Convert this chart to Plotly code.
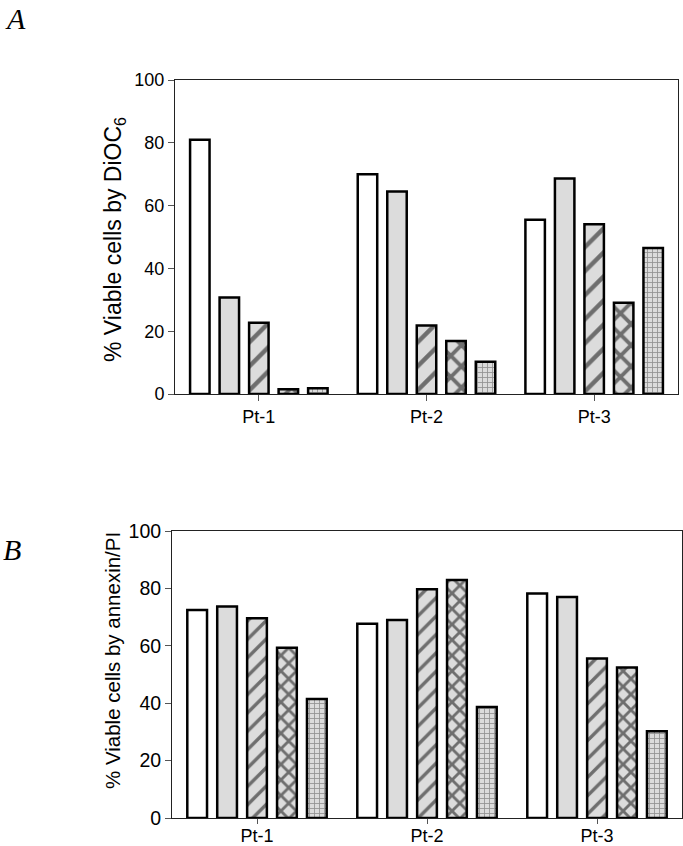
import plotly.graph_objects as go
from plotly.subplots import make_subplots

categories = ["Pt-1", "Pt-2", "Pt-3"]
y_ticks = [0, 20, 40, 60, 80, 100]

# Panel A: % viable cells by DiOC6
a_s1 = [81.0, 70.0, 55.5]
a_s2 = [30.7, 64.5, 68.6]
a_s3 = [22.7, 21.8, 54.1]
a_s4 = [1.5, 16.9, 29.1]
a_s5 = [1.8, 10.3, 46.5]

# Panel B: % viable cells by annexin/PI
b_s1 = [72.5, 67.7, 78.2]
b_s2 = [73.7, 69.0, 77.0]
b_s3 = [69.6, 79.7, 55.6]
b_s4 = [59.3, 82.9, 52.4]
b_s5 = [41.5, 38.7, 30.2]

W, H = 683, 846
GREY = "#dcdcdc"

def styles(hatch_size, cross_size):
    return [
        dict(color="white", pattern=dict(shape="")),
        dict(color=GREY, pattern=dict(shape="")),
        dict(color=GREY, pattern=dict(shape="/", fgcolor="black", size=hatch_size, solidity=0.26)),
        dict(color=GREY, pattern=dict(shape="x", fgcolor="black", size=cross_size, solidity=0.45)),
        dict(color=GREY, pattern=dict(shape="+", fgcolor="#444444", size=5, solidity=0.3)),
    ]

fig = make_subplots(rows=2, cols=1)
panels = (
    (1, [a_s1, a_s2, a_s3, a_s4, a_s5], styles(17, 15)),
    (2, [b_s1, b_s2, b_s3, b_s4, b_s5], styles(13, 11)),
)
for row, series, sts in panels:
    for vals, st in zip(series, sts):
        fig.add_trace(go.Bar(
            x=categories, y=vals,
            marker=dict(color=st["color"], pattern=st["pattern"],
                        line=dict(color="black", width=2.5)),
            showlegend=False, hoverinfo="skip",
        ), row=row, col=1)

def px_x(v):
    return v / W

def px_y(v):
    return 1 - v / H

font_fam = "Liberation Sans, Arial, sans-serif"
axis_common = dict(showline=True, linecolor="#222", linewidth=1, mirror=True,
                   ticks="outside", tickcolor="#555", showgrid=False,
                   zeroline=False, automargin=False)

fig.update_layout(
    width=W, height=H, margin=dict(l=0, r=0, t=0, b=0, autoexpand=False),
    plot_bgcolor="white", paper_bgcolor="white",
    barmode="group", bargap=0.12, bargroupgap=0.34,
    font=dict(family=font_fam, color="black"),
    xaxis=dict(domain=[px_x(175), px_x(678)], anchor="y", ticklen=6, tickfont=dict(size=18),
               **axis_common),
    yaxis=dict(domain=[px_y(394), px_y(80)], anchor="x", range=[0, 100], tickvals=y_ticks,
               ticklen=6, tickfont=dict(size=18), **axis_common),
    xaxis2=dict(domain=[px_x(172), px_x(682)], anchor="y2", ticklen=5, ticklabelstandoff=-4,
                tickfont=dict(size=18), **axis_common),
    yaxis2=dict(domain=[px_y(818), px_y(531)], anchor="x2", range=[0, 100], tickvals=y_ticks,
                ticklen=6, tickfont=dict(size=19.5), **axis_common),
    annotations=[
        dict(text="% Viable cells by DiOC<sub>6</sub>", textangle=-90, x=px_x(115), y=px_y(240),
             xref="paper", yref="paper", xanchor="center", yanchor="middle", showarrow=False,
             font=dict(size=23, family=font_fam)),
        dict(text="% Viable cells by annexin/PI", textangle=-90, x=px_x(112), y=px_y(661),
             xref="paper", yref="paper", xanchor="center", yanchor="middle", showarrow=False,
             font=dict(size=20.5, family=font_fam)),
        dict(text="A", x=px_x(3), y=px_y(18), xref="paper", yref="paper", xanchor="left",
             yanchor="middle", showarrow=False,
             font=dict(size=30, family="Liberation Serif, Times New Roman, serif", style="italic")),
        dict(text="B", x=px_x(1), y=px_y(549), xref="paper", yref="paper", xanchor="left",
             yanchor="middle", showarrow=False,
             font=dict(size=30, family="Liberation Serif, Times New Roman, serif", style="italic")),
    ],
)

fig.write_html("out.html", config={"displayModeBar": False},
               post_script="document.body.style.margin='0';")
